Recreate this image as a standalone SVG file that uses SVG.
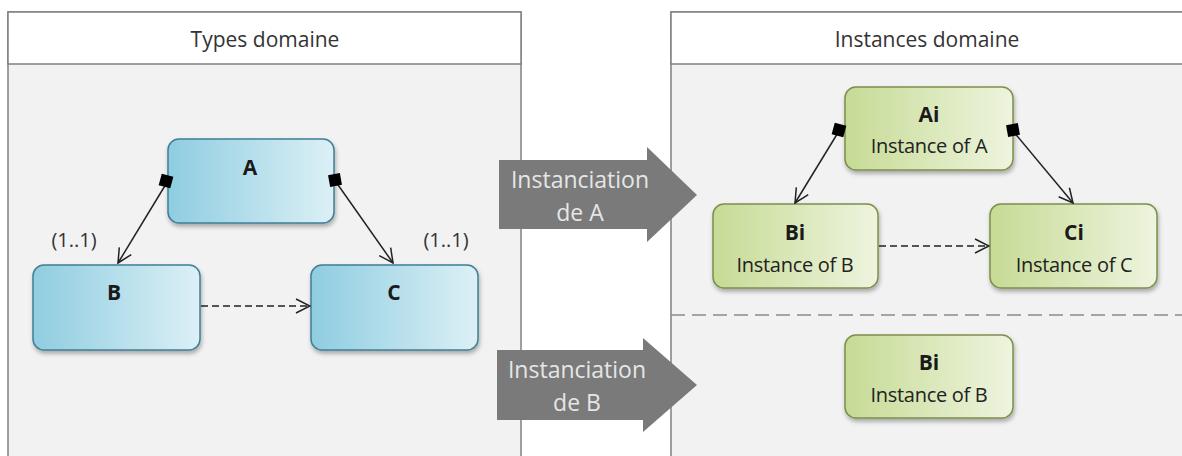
<svg xmlns="http://www.w3.org/2000/svg" width="1182" height="456" viewBox="0 0 1182 456">
<style>
.panel{fill:#f2f2f2;stroke:#808080;stroke-width:1.5}
.head{fill:#ffffff;stroke:#808080;stroke-width:1.5}
.title{font-family:"Open Sans","Liberation Sans",sans-serif;font-size:21px;fill:#333;text-anchor:middle}
.blue{fill:url(#gb);stroke:#3f7f95;stroke-width:1.5}
.green{fill:url(#gg);stroke:#7d8f4c;stroke-width:1.5}
.lbl{font-family:"Open Sans","Liberation Sans",sans-serif;font-size:21px;font-weight:bold;fill:#1a1a1a;text-anchor:middle}
.sub{font-family:"Open Sans","Liberation Sans",sans-serif;font-size:20px;fill:#222;text-anchor:middle;letter-spacing:-0.3px}
.mult{font-family:"Open Sans","Liberation Sans",sans-serif;font-size:20px;fill:#333;text-anchor:middle}
.conn{stroke:#222;stroke-width:1.5;fill:none}
.dash{stroke-dasharray:7 4}
.big{fill:#7a7a7a}
.bigt{font-family:"Open Sans","Liberation Sans",sans-serif;font-size:23px;fill:#e6e6e6;text-anchor:middle}
</style>
<defs>
<linearGradient id="gb" x1="0" y1="0" x2="1" y2="0">
<stop offset="0" stop-color="#8fcde0"/><stop offset="1" stop-color="#dcf0f6"/>
</linearGradient>
<linearGradient id="gg" x1="0" y1="0" x2="1" y2="0">
<stop offset="0" stop-color="#c6db95"/><stop offset="1" stop-color="#eef4de"/>
</linearGradient>
<filter id="sh" x="-10%" y="-10%" width="130%" height="140%">
<feDropShadow dx="1" dy="3" stdDeviation="2" flood-color="#000" flood-opacity="0.3"/>
</filter>
<marker id="open" viewBox="0 0 16 16" refX="15" refY="8" markerWidth="16" markerHeight="16" markerUnits="userSpaceOnUse" orient="auto">
<path d="M1,1 L15,8 L1,15" fill="none" stroke="#222" stroke-width="1.5"/>
</marker>
</defs>

<g id="panel-types">
<rect class="panel" x="8" y="12" width="513" height="450"/>
<rect class="head" x="8" y="12" width="513" height="52"/>
<text class="title" x="265" y="47">Types domaine</text>
</g>
<g id="panel-instances">
<rect class="panel" x="671" y="12" width="520" height="450"/>
<rect class="head" x="671" y="12" width="520" height="52"/>
<text class="title" x="927" y="47">Instances domaine</text>
<line x1="671" y1="315" x2="1182" y2="315" stroke="#8a8a8a" stroke-width="1.5" stroke-dasharray="14 7"/>
</g>

<g id="arrow-a">
<path class="big" d="M499,160 H647 V147 L697,195 L647,242 V229 H499 Z"/>
<text class="bigt" x="580" y="188">Instanciation</text>
<text class="bigt" x="580" y="221">de A</text>
</g>
<g id="arrow-b">
<path class="big" d="M497,350 H643 V338 L697,385 L643,432 V420 H497 Z"/>
<text class="bigt" x="577" y="378">Instanciation</text>
<text class="bigt" x="577" y="411">de B</text>
</g>

<g id="node-A">
<rect class="blue" x="168" y="139" width="166" height="84" rx="11" filter="url(#sh)"/>
<text class="lbl" x="250" y="175">A</text>
</g>
<g id="node-B">
<rect class="blue" x="33" y="265" width="167" height="85" rx="11" filter="url(#sh)"/>
<text class="lbl" x="114" y="300">B</text>
</g>
<g id="node-C">
<rect class="blue" x="311" y="265" width="167" height="85" rx="11" filter="url(#sh)"/>
<text class="lbl" x="394" y="300">C</text>
</g>

<g id="node-Ai">
<rect class="green" x="845" y="87" width="168" height="83" rx="11" filter="url(#sh)"/>
<text class="lbl" x="929" y="122">Ai</text>
<text class="sub" x="929" y="153">Instance of A</text>
</g>
<g id="node-Bi">
<rect class="green" x="713" y="204" width="165" height="84" rx="11" filter="url(#sh)"/>
<text class="lbl" x="795" y="240">Bi</text>
<text class="sub" x="795" y="272">Instance of B</text>
</g>
<g id="node-Ci">
<rect class="green" x="990" y="204" width="167" height="84" rx="11" filter="url(#sh)"/>
<text class="lbl" x="1074" y="240">Ci</text>
<text class="sub" x="1074" y="272">Instance of C</text>
</g>
<g id="node-Bi2">
<rect class="green" x="845" y="335" width="168" height="83" rx="11" filter="url(#sh)"/>
<text class="lbl" x="929" y="370">Bi</text>
<text class="sub" x="929" y="402">Instance of B</text>
</g>

<g id="connectors">
<line class="conn" x1="166" y1="184" x2="118" y2="263" marker-end="url(#open)"/>
<line class="conn" x1="336" y1="182" x2="393" y2="263" marker-end="url(#open)"/>
<line class="conn dash" x1="201" y1="306" x2="310" y2="306" marker-end="url(#open)"/>
<rect x="160" y="175" width="12" height="12" fill="#000" transform="rotate(15 166 181)"/>
<rect x="329" y="174" width="12" height="12" fill="#000" transform="rotate(-10 335 180)"/>
<text class="mult" x="74" y="247">(1..1)</text>
<text class="mult" x="446" y="247">(1..1)</text>

<line class="conn" x1="839" y1="131" x2="795" y2="203" marker-end="url(#open)"/>
<line class="conn" x1="1013" y1="131" x2="1073" y2="203" marker-end="url(#open)"/>
<line class="conn dash" x1="879" y1="246" x2="989" y2="246" marker-end="url(#open)"/>
<rect x="833" y="124" width="12" height="12" fill="#000" transform="rotate(15 839 130)"/>
<rect x="1007" y="124" width="12" height="12" fill="#000" transform="rotate(-10 1013 130)"/>
</g>
</svg>
